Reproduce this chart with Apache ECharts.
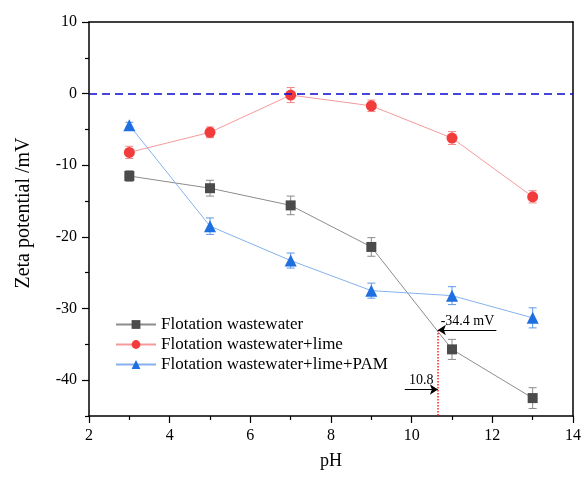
<!DOCTYPE html>
<html lang="en">
  <head>
    <meta charset="UTF-8" />
    <title>Zeta potential vs pH</title>
    <script src="https://cdn.jsdelivr.net/npm/echarts@6.0.0/dist/echarts.min.js"></script>
    <style>
      body { margin: 0; }
    </style>
  </head>
  <body>
    <div id="main" style="width: 584px; height: 479px"></div>
    <script type="text/javascript">
      // data
      const phValues = [3, 5, 7, 9, 11, 13];
      const wastewater = [-11.5, -13.2, -15.6, -21.4, -35.7, -42.5];
      const wastewaterErr = [0.75, 1.1, 1.3, 1.3, 1.4, 1.45];
      const lime = [-8.2, -5.4, -0.2, -1.7, -6.2, -14.4];
      const limeErr = [0.85, 0.75, 1.05, 0.8, 0.9, 0.85];
      const limePam = [-4.4, -18.5, -23.3, -27.5, -28.2, -31.3];
      const limePamErr = [0.4, 1.15, 1.05, 1.05, 1.25, 1.4];
      const seriesNames = [
        "Flotation wastewater",
        "Flotation wastewater+lime",
        "Flotation wastewater+lime+PAM",
      ];
      const yMajorTicks = [10, 0, -10, -20, -30, -40];
      const yMinorTicks = [5, -5, -15, -25, -35, -45];
      // annotation: intersection point and arrow ends
      const crossPoint = [10.65, -33];
      const topArrowEnd = 12.1;
      const bottomArrowStart = 9.83;
      const bottomArrowY = -41.3;

      const font = "'Liberation Serif', 'Times New Roman', serif";

      function errorBars(values, errs, color) {
        return {
          type: "custom",
          silent: true,
          z: 1,
          data: phValues.map((x, i) => [x, values[i] - errs[i], values[i] + errs[i]]),
          encode: { x: 0, y: [1, 2] },
          renderItem: (params, api) => {
            const lo = api.coord([api.value(0), api.value(1)]);
            const hi = api.coord([api.value(0), api.value(2)]);
            const w = 4;
            const st = { stroke: color, lineWidth: 1 };
            return {
              type: "group",
              children: [
                { type: "line", shape: { x1: lo[0], y1: lo[1], x2: hi[0], y2: hi[1] }, style: st },
                { type: "line", shape: { x1: lo[0] - w, y1: lo[1], x2: lo[0] + w, y2: lo[1] }, style: st },
                { type: "line", shape: { x1: hi[0] - w, y1: hi[1], x2: hi[0] + w, y2: hi[1] }, style: st },
              ],
            };
          },
        };
      }

      const pair = (arr) => phValues.map((x, i) => [x, arr[i]]);

      const arrowLabel = (pos) => ({
        show: true,
        position: pos,
        formatter: "{b}",
        fontFamily: font,
        fontSize: 14,
        color: "#000",
        distance: 2,
      });

      let options = {
        animation: false,
        grid: { left: 89, right: 8, top: 22, bottom: 63 },
        textStyle: { fontFamily: font },
        legend: {
          data: seriesNames,
          orient: "vertical",
          left: 110,
          top: 311,
          itemWidth: 40,
          itemHeight: 11,
          itemGap: 3,
          textStyle: { fontFamily: font, fontSize: 17, color: "#000", lineHeight: 17 },
        },
        xAxis: [
          {
            type: "value",
            min: 2,
            max: 14,
            interval: 2,
            name: "pH",
            nameLocation: "middle",
            nameGap: 36,
            nameTextStyle: { fontFamily: font, fontSize: 18, color: "#000" },
            axisLine: { onZero: false, lineStyle: { color: "#000", width: 1.5 } },
            axisTick: { length: 7, lineStyle: { color: "#000", width: 1.2 } },
            minorTick: { show: true, splitNumber: 2, length: 4, lineStyle: { color: "#000", width: 1.2 } },
            axisLabel: { fontFamily: font, fontSize: 16, color: "#000", margin: 12 },
            splitLine: { show: false },
          },
          {
            type: "value",
            position: "top",
            min: 2,
            max: 14,
            axisLine: { show: true, onZero: false, lineStyle: { color: "#000", width: 1.5 } },
            axisTick: { show: false },
            axisLabel: { show: false },
            splitLine: { show: false },
          },
        ],
        yAxis: [
          {
            type: "value",
            min: -45,
            max: 10,
            interval: 5,
            name: "Zeta potential /mV",
            nameLocation: "middle",
            nameGap: 55,
            nameTextStyle: { fontFamily: font, fontSize: 20, color: "#000", padding: [0, 0, 0, 12] },
            axisLine: { show: true, onZero: false, lineStyle: { color: "#000", width: 1.5 } },
            axisTick: { length: 7, customValues: yMajorTicks, lineStyle: { color: "#000", width: 1.2 } },
            axisLabel: { fontFamily: font, fontSize: 16, color: "#000", margin: 12, customValues: yMajorTicks },
            splitLine: { show: false },
          },
          {
            type: "value",
            position: "left",
            min: -45,
            max: 10,
            interval: 5,
            axisLine: { show: false, onZero: false },
            axisTick: { show: true, length: 4, customValues: yMinorTicks, lineStyle: { color: "#000", width: 1.2 } },
            axisLabel: { show: false },
            splitLine: { show: false },
          },
          {
            type: "value",
            position: "right",
            min: -45,
            max: 10,
            axisLine: { show: true, onZero: false, lineStyle: { color: "#000", width: 1.5 } },
            axisTick: { show: false },
            axisLabel: { show: false },
            splitLine: { show: false },
          },
        ],
        series: [
          errorBars(wastewater, wastewaterErr, "#8a8a8a"),
          errorBars(lime, limeErr, "#f08585"),
          errorBars(limePam, limePamErr, "#5d98e6"),
          {
            name: seriesNames[0],
            type: "line",
            z: 3,
            data: pair(wastewater),
            symbol: "rect",
            symbolSize: 10,
            itemStyle: { color: "#4b4b4b" },
            lineStyle: { color: "#8c8c8c", width: 1 },
            markLine: {
              silent: true,
              symbol: "none",
              label: { show: false },
              lineStyle: { color: "#0a0ad2", width: 1.6, type: [8, 5] },
              data: [{ yAxis: 0 }],
            },
          },
          {
            name: seriesNames[1],
            type: "line",
            z: 3,
            data: pair(lime),
            symbol: "circle",
            symbolSize: 11,
            itemStyle: { color: "#f23b3b" },
            lineStyle: { color: "#f59a9a", width: 1 },
            markLine: {
              silent: true,
              symbol: "none",
              label: { show: false },
              lineStyle: { color: "#ff2020", width: 1.5, type: "dotted" },
              data: [[{ coord: crossPoint }, { coord: [crossPoint[0], -45] }]],
            },
          },
          {
            name: seriesNames[2],
            type: "line",
            z: 3,
            data: pair(limePam),
            symbol: "triangle",
            symbolSize: 12,
            itemStyle: { color: "#1f6fe0" },
            lineStyle: { color: "#85b2ee", width: 1 },
            markLine: {
              silent: true,
              symbolSize: 8,
              lineStyle: { color: "#000", width: 1, type: "solid" },
              label: arrowLabel("insideMiddleTop"),
              data: [
                [
                  { name: "-34.4 mV", coord: crossPoint, symbol: "arrow", label: arrowLabel("insideEndTop") },
                  { coord: [topArrowEnd, crossPoint[1]], symbol: "none" },
                ],
                [
                  { name: "10.8", coord: [bottomArrowStart, bottomArrowY], symbol: "none" },
                  { coord: [crossPoint[0], bottomArrowY], symbol: "arrow" },
                ],
              ],
            },
          },
        ],
      };

      let myChart = echarts.init(document.getElementById("main"));
      myChart.setOption(options);
    </script>
  </body>
</html>
